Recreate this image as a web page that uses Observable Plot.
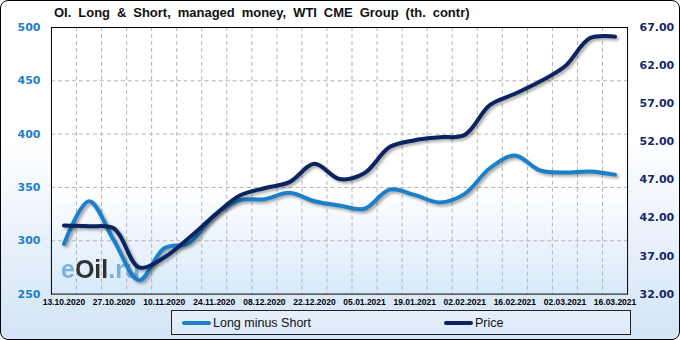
<!DOCTYPE html>
<html><head><meta charset="utf-8">
<script src="https://cdn.jsdelivr.net/npm/d3@7"></script>
<script src="https://cdn.jsdelivr.net/npm/@observablehq/plot@0.6"></script>
<style>
html,body{margin:0;padding:0;background:#fff;}
#wrap{position:relative;box-sizing:border-box;width:680px;height:340px;border:1px solid #000;border-radius:8px;overflow:hidden;
  background:linear-gradient(to bottom,#ffffff 0%,#ffffff 40%,#d2e4f6 100%);font-family:"Liberation Sans",Arial,sans-serif;}
#title{position:absolute;left:53px;top:4px;font-weight:bold;font-size:13px;color:#111;word-spacing:3.3px;white-space:nowrap;}
#plotbg{position:absolute;left:50px;top:26px;width:577px;height:267px;
  background:linear-gradient(to bottom,#ffffff 0%,#ffffff 60%,#d8e9fa 100%);}
#wm{position:absolute;left:60px;top:254px;font-size:25px;font-weight:bold;white-space:nowrap;opacity:0.85;}
#wm .b{color:#6aa6d8;} #wm .k{color:#111;}
#chart{position:absolute;left:-1px;top:19px;}
#chart svg .shadow path{filter:drop-shadow(2px 2px 1.5px rgba(0,0,0,0.35));}
#legend{position:absolute;left:170px;top:309px;width:460px;height:25px;box-sizing:border-box;border:1px solid #222;
  background:linear-gradient(to bottom,#e6f0fb,#dbe9f8);font-size:12.5px;color:#111;}
.item{position:absolute;top:5px;display:flex;align-items:center;}
.sw{display:inline-block;width:29px;height:4px;border-radius:2px;margin-right:2px;}
</style>
</head><body>
<div id="wrap">
  <div id="title">OI. Long &amp; Short, managed money, WTI CME Group (th. contr)</div>
  <div id="plotbg"></div>
  <div id="wm"><span class="b">e</span><span class="k">Oil</span><span class="b">.ru</span></div>
  <div id="chart"></div>
  <div id="legend">
    <div class="item" style="left:10px"><span class="sw" style="background:#1b80c9"></span>Long minus Short</div>
    <div class="item" style="left:272px"><span class="sw" style="background:#0b2461"></span>Price</div>
  </div>
</div>
<script>
const dates = ["13.10.2020","20.10.2020","27.10.2020","03.11.2020","10.11.2020","17.11.2020","24.11.2020","01.12.2020","08.12.2020","15.12.2020","22.12.2020","29.12.2020","05.01.2021","12.01.2021","19.01.2021","26.01.2021","02.02.2021","09.02.2021","16.02.2021","23.02.2021","02.03.2021","09.03.2021","16.03.2021"];
const longMinusShort = [297,337,300,263,293,298,324,338,339,345,337,333,330,348,343,336,344,368,380,366,364,365,362];
const price = [41.0,40.9,40.6,35.5,36.8,39.4,42.3,44.9,45.9,46.7,49.1,47.1,47.9,51.3,52.2,52.6,52.9,56.8,58.3,59.9,61.9,65.6,65.8];
const tickLabels = ["13.10.2020","27.10.2020","10.11.2020","24.11.2020","08.12.2020","22.12.2020","05.01.2021","19.01.2021","02.02.2021","16.02.2021","02.03.2021","16.03.2021"];
const leftTicks = [250,300,350,400,450,500];
const rightTicks = [32,37,42,47,52,57,62,67];

const L0 = 250, L1 = 500, R0 = 32, R1 = 67;
const toLeft = p => L0 + (p - R0) * (L1 - L0) / (R1 - R0);
const fromLeft = v => R0 + (v - L0) * (R1 - R0) / (L1 - L0);

const data = dates.map((d, i) => ({i, date: d, lms: longMinusShort[i], price: price[i]}));
const tickIdx = tickLabels.map(t => dates.indexOf(t));

const plot = Plot.plot({
  width: 680, height: 290,
  marginTop: 7, marginBottom: 16, marginLeft: 51, marginRight: 52,
  style: {background: "transparent", overflow: "visible"},
  x: {type: "linear", domain: [-0.5, dates.length - 0.5], axis: null},
  y: {domain: [L0, L1], axis: null},
  marks: [
    Plot.gridY(leftTicks.slice(1, -1), {stroke: "#b4b4b4", strokeOpacity: 1, strokeDasharray: "4,3"}),
    Plot.gridX(d3.range(dates.length - 1).map(i => i + 0.5), {stroke: "#b4b4b4", strokeOpacity: 1, strokeDasharray: "4,3"}),
    Plot.axisY(leftTicks, {anchor: "left", tickSize: 0, tickPadding: 11, label: null, fill: "#1f7ec4",
      fontSize: 11, fontWeight: "bold", fontFamily: "DejaVu Sans"}),
    Plot.axisY(rightTicks.map(toLeft), {anchor: "right", tickSize: 0, tickPadding: 12, label: null, fill: "#15286a",
      fontSize: 11, fontWeight: "bold", fontFamily: "DejaVu Sans", tickFormat: v => fromLeft(v).toFixed(2)}),
    Plot.axisX(tickIdx, {anchor: "bottom", tickSize: 0, tickPadding: 5, label: null, fill: "#000",
      fontSize: 8.5, fontWeight: "bold", fontFamily: "Liberation Sans", tickFormat: i => dates[i]}),
    Plot.lineY(data, {x: "i", y: "lms", stroke: "#1b80c9", strokeWidth: 4, curve: "catmull-rom", className: "shadow"}),
    Plot.lineY(data, {x: "i", y: d => toLeft(d.price), stroke: "#0b2461", strokeWidth: 4, curve: "catmull-rom", className: "shadow"}),
    Plot.frame({stroke: "#000", strokeWidth: 1})
  ]
});
document.getElementById("chart").appendChild(plot);
</script>
</body></html>
